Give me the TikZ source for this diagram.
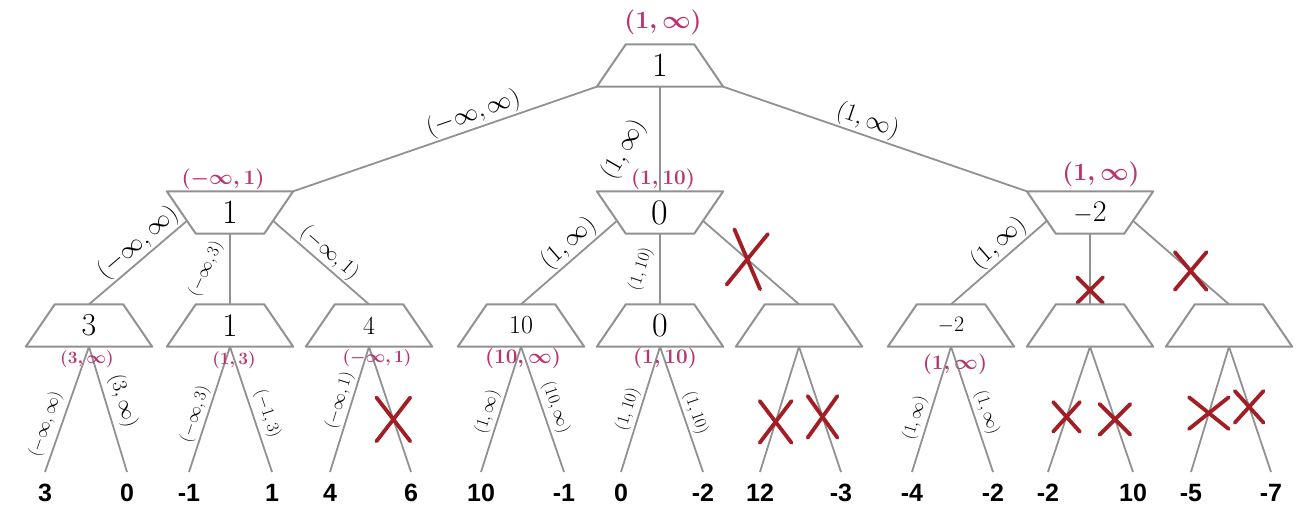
\documentclass[tikz,border=0pt]{standalone}
\usepackage{fontspec}
\newfontfamily\leaffont{Liberation Sans}
\usetikzlibrary{calc,shapes.misc}
\pgfdeclarelayer{edges}
\pgfdeclarelayer{traps}
\pgfsetlayers{edges,traps,main}
\definecolor{pinkc}{RGB}{182,52,112}
\definecolor{xred}{RGB}{163,30,36}
\definecolor{linec}{RGB}{145,145,145}
\newcommand\fs[1]{\fontsize{#1}{#1}\selectfont}
\begin{document}
\begin{tikzpicture}[x=1pt,y=-1pt,
  tnode/.style={rectangle, minimum width=126pt, minimum height=42pt, inner sep=0pt},
  trapline/.style={draw=linec, line width=2pt, fill=white, line join=round},
  edge/.style={draw=linec, line width=1.8pt},
  elab/.style={inner sep=1.5pt, text=black},
  plab/.style={text=pinkc, inner sep=0pt},
  leaf/.style={font=\leaffont\bfseries\fs{25}, inner xsep=0pt, inner ysep=12pt, anchor=north},
  xmark/.style={cross out, draw=xred, line width=3.8pt, inner sep=0pt, line cap=round},
]
\useasboundingbox (0,0) rectangle (1297,508);

% tree nodes
\node[tnode, font=\fs{34}] (r) at (660,65.5) {1};
\node[tnode, font=\fs{34}] (a) at (230,212.5) {1};
\node[tnode, font=\fs{36}] (b) at (660,212.5) {0};
\node[tnode, font=\fs{30}] (c) at (1090,212.5) {$-$2};
\node[tnode, font=\fs{32}] (a1) at (89,325.5) {3};
\node[tnode, font=\fs{33}] (a2) at (230,325.5) {1};
\node[tnode, font=\fs{26}] (a3) at (369,325.5) {4};
\node[tnode, font=\fs{26}] (b1) at (521,325.5) {10};
\node[tnode, font=\fs{34}] (b2) at (660,325.5) {0};
\node[tnode] (b3) at (799,325.5) {};
\node[tnode, font=\fs{22}] (c1) at (951,325.5) {$-$2};
\node[tnode] (c2) at (1090,325.5) {};
\node[tnode] (c3) at (1229,325.5) {};

% leaves
\node[leaf] (l1) at (45,472) {3};
\node[leaf] (l2) at (127,472) {0};
\node[leaf] (l3) at (189,472) {-1};
\node[leaf] (l4) at (272,472) {1};
\node[leaf] (l5) at (330,472) {4};
\node[leaf] (l6) at (411,472) {6};
\node[leaf] (l7) at (481,472) {10};
\node[leaf] (l8) at (564,472) {-1};
\node[leaf] (l9) at (621,472) {0};
\node[leaf] (l10) at (703,472) {-2};
\node[leaf] (l11) at (760,472) {12};
\node[leaf] (l12) at (841,472) {-3};
\node[leaf] (l13) at (912,472) {-4};
\node[leaf] (l14) at (993,472) {-2};
\node[leaf] (l15) at (1048,472) {-2};
\node[leaf] (l16) at (1133,472) {10};
\node[leaf] (l17) at (1191,472) {-5};
\node[leaf] (l18) at (1271,472) {-7};

% pink bound labels
\node[plab, font={\fs{25}\boldmath}] (pr) at (663,22) {$(1,\infty)$};
\node[plab, font={\fs{20}\boldmath}] (pa) at (223,179) {$(-\infty,1)$};
\node[plab, font={\fs{21}\boldmath}] (pb) at (663,179) {$(1,10)$};
\node[plab, font={\fs{26}\boldmath}] (pc) at (1101,174) {$(1,\infty)$};
\node[plab, font={\fs{17}\boldmath}] (pa1) at (87,359) {$(3,\infty)$};
\node[plab, font={\fs{18}\boldmath}] (pa2) at (234,360) {$(1,3)$};
\node[plab, font={\fs{18}\boldmath}] (pa3) at (377,358) {$(-\infty,1)$};
\node[plab, font={\fs{20}\boldmath}] (pb1) at (523,358) {$(10,\infty)$};
\node[plab, font={\fs{20}\boldmath}] (pb2) at (665,358) {$(1,10)$};
\node[plab, font={\fs{22}\boldmath}] (pc1) at (955,364) {$(1,\infty)$};

% side points of the inverted trapezoids
\foreach \p in {a,b,c}{
  \coordinate (\p L) at ($(\p.north west)!0.7!(\p.south west)+(20,0)$);
  \coordinate (\p R) at ($(\p.north east)!0.7!(\p.south east)+(-20,0)$);
}

\begin{pgfonlayer}{traps}
\foreach \n in {r,a1,a2,a3,b1,b2,b3,c1,c2,c3}
  \path[trapline] (\n.south west) -- (\n.south east) -- ([xshift=-29pt]\n.north east) -- ([xshift=29pt]\n.north west) -- cycle;
\foreach \n in {a,b,c}
  \path[trapline] (\n.north west) -- (\n.north east) -- ([xshift=-29pt]\n.south east) -- ([xshift=29pt]\n.south west) -- cycle;
\end{pgfonlayer}

\begin{pgfonlayer}{edges}
% root
\draw[edge] (r.south west) -- node[elab, sloped, above, pos=0.39, font=\fs{26}] {$(-\infty,\infty)$} (a.north east);
\draw[edge] (r.south) -- node[elab, pos=0.6, xshift=-36pt, rotate=60, font=\fs{24}] {$(1,\infty)$} (b.north);
\draw[edge] (r.south east) -- node[elab, sloped, above, pos=0.46, font=\fs{27}] {$(1,\infty)$} (c.north west);
% a
\draw[edge] (aL) -- node[elab, sloped, above, pos=0.4, font=\fs{23}] {$(-\infty,\infty)$} (a1.north);
\draw[edge] (a.south) -- node[elab, pos=0.5, xshift=-24pt, rotate=65, font=\fs{18}] {$(-\infty,3)$} (a2.north);
\draw[edge] (aR) -- node[elab, sloped, above, pos=0.5, font=\fs{20}] {$(-\infty,1)$} (a3.north);
% b
\draw[edge] (bL) -- node[elab, sloped, above, pos=0.4, font=\fs{24}] {$(1,\infty)$} (b1.north);
\draw[edge] (b.south) -- node[elab, pos=0.5, xshift=-19pt, rotate=72, font=\fs{18}] {$(1,10)$} (b2.north);
\draw[edge] (bR) -- node[xmark, pos=0.46, minimum width=30pt, minimum height=52pt, rotate=-8] {} (b3.north);
% c
\draw[edge] (cL) -- node[elab, sloped, above, pos=0.4, font=\fs{25}] {$(1,\infty)$} (c1.north);
\draw[edge] (c.south) -- node[xmark, pos=0.8, minimum width=22pt, minimum height=22pt] {} (c2.north);
\draw[edge] (cR) -- node[xmark, pos=0.6, minimum width=28pt, minimum height=34pt] {} (c3.north);
% leaves
\draw[edge] (a1.south) -- node[elab, sloped, above=4pt, pos=0.66, font=\fs{19}] {$(-\infty,\infty)$} (l1.north);
\draw[edge] (a1.south) -- node[elab, sloped, above=4pt, pos=0.47, font=\fs{20}] {$(3,\infty)$} (l2.north);
\draw[edge] (a2.south) -- node[elab, sloped, above=1pt, pos=0.57, font=\fs{18}] {$(-\infty,3)$} (l3.north);
\draw[edge] (a2.south) -- node[elab, sloped, above=3pt, pos=0.57, font=\fs{19}] {$(-1,3)$} (l4.north);
\draw[edge] (a3.south) -- node[elab, sloped, above=1pt, pos=0.46, font=\fs{18}] {$(-\infty,1)$} (l5.north);
\draw[edge] (a3.south) -- node[xmark, pos=0.58, minimum width=30pt, minimum height=40pt] {} (l6.north);
\draw[edge] (b1.south) -- node[elab, sloped, above=1pt, pos=0.55, font=\fs{18}] {$(1,\infty)$} (l7.north);
\draw[edge] (b1.south) -- node[elab, sloped, above=2pt, pos=0.52, font=\fs{18}] {$(10,\infty)$} (l8.north);
\draw[edge] (b2.south) -- node[elab, sloped, above=1pt, pos=0.53, font=\fs{18}] {$(1,10)$} (l9.north);
\draw[edge] (b2.south) -- node[elab, sloped, above=1pt, pos=0.56, font=\fs{18}] {$(1,10)$} (l10.north);
\draw[edge] (b3.south) -- node[xmark, pos=0.6, minimum width=28pt, minimum height=38pt] {} (l11.north);
\draw[edge] (b3.south) -- node[xmark, pos=0.56, minimum width=26pt, minimum height=38pt] {} (l12.north);
\draw[edge] (c1.south) -- node[elab, sloped, above=2pt, pos=0.6, font=\fs{18}] {$(1,\infty)$} (l13.north);
\draw[edge] (c1.south) -- node[elab, sloped, above=2pt, pos=0.56, font=\fs{18}] {$(1,\infty)$} (l14.north);
\draw[edge] (c2.south) -- node[xmark, pos=0.56, minimum width=23pt, minimum height=26pt] {} (l15.north);
\draw[edge] (c2.south) -- node[xmark, pos=0.58, minimum width=27pt, minimum height=27pt] {} (l16.north);
\draw[edge] (c3.south) -- node[xmark, pos=0.53, minimum width=36pt, minimum height=28pt] {} (l17.north);
\draw[edge] (c3.south) -- node[xmark, pos=0.48, minimum width=25pt, minimum height=28pt] {} (l18.north);
\end{pgfonlayer}
\end{tikzpicture}
\end{document}
